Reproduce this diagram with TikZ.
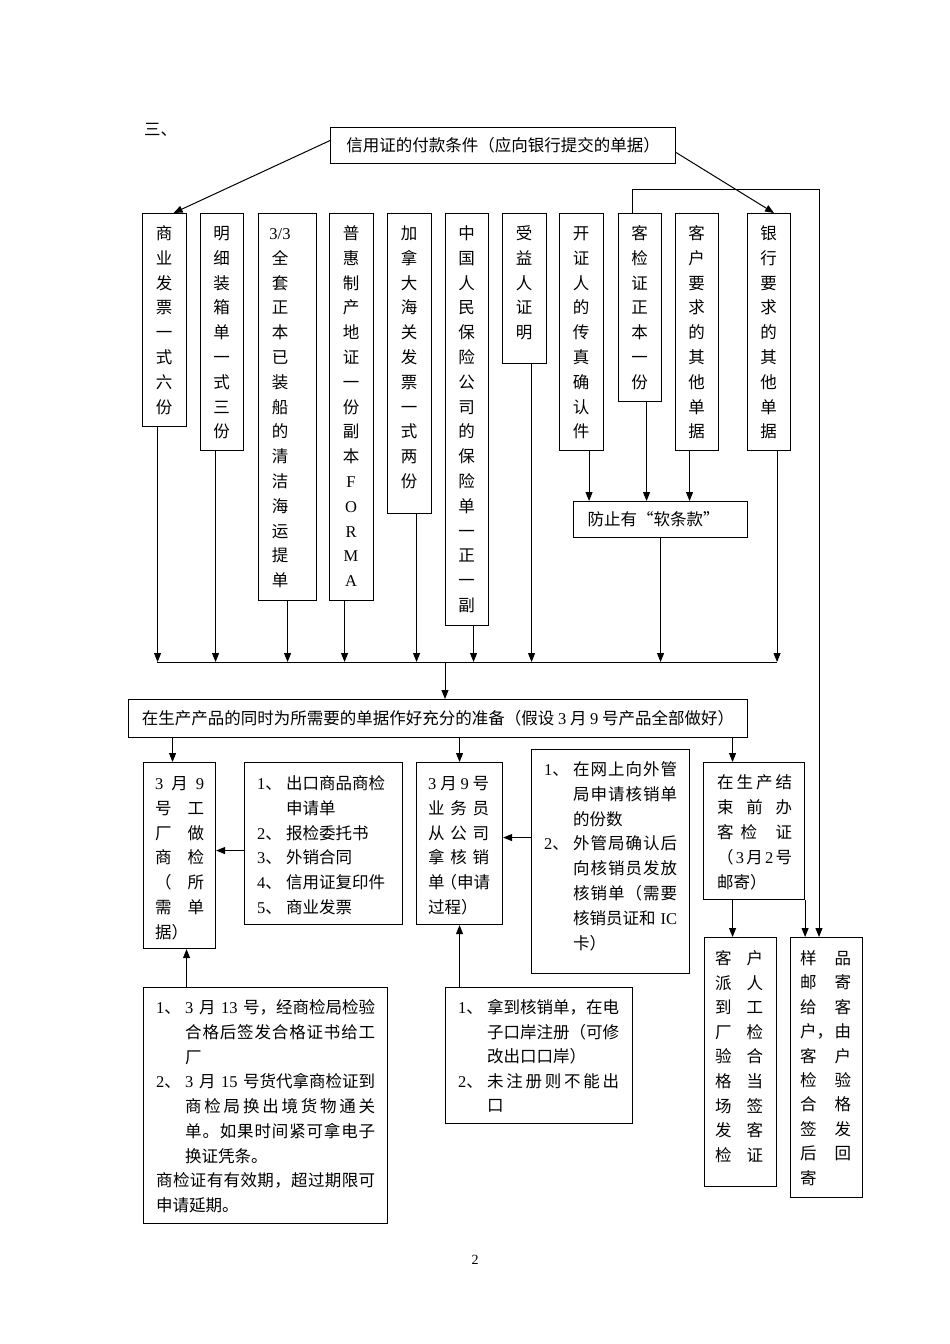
\documentclass[tikz,border=0pt]{standalone}
\usepackage{fontspec}
\setmainfont{Noto Sans CJK SC}
\newfontfamily\latf{Liberation Serif}
\usetikzlibrary{arrows.meta}
\newcommand\dg[1]{{\latf #1}}
\def\jz#1#2\jzend{#1\if\relax\detokenize{#2}\relax\else\hfil\jz#2\jzend\fi}
\newcommand\sprd[2]{\makebox[#1][s]{\jz#2\jzend}}
\newcommand\nm[1]{\makebox[29pt][l]{\dg{#1}、}}
\newcommand\hi{\hspace*{29pt}}
\newcommand\ftop{\rule{0pt}{16pt}}
\newcommand\fs{\fontsize{16.5}{24.8}\selectfont}
\begin{document}
\begin{tikzpicture}[x=1pt,y=-1pt,
  bx/.style={draw, line width=1.1pt, inner sep=0pt, anchor=north west},
  vt/.style={font=\fs, align=center, inner sep=0pt, anchor=north},
  ht/.style={font=\fs, align=left, inner sep=0pt, anchor=north west},
  arr/.style={line width=1pt, -{Triangle[length=9pt,width=7pt]}},
  ln/.style={line width=1pt}]
\useasboundingbox (0,0) rectangle (950,1344);

\node[font=\fs, inner sep=0pt, anchor=west] (sec) at (144,130) {三、};
\node[bx, minimum width=345pt, minimum height=36pt, font=\fs] (top) at (330,127) {信用证的付款条件（应向银行提交的单据）};

% vertical boxes
\node[bx, minimum width=44pt, minimum height=213pt] (v1) at (142,213) {};
\node[bx, minimum width=43pt, minimum height=237pt] (v2) at (200,213) {};
\node[bx, minimum width=58pt, minimum height=387pt] (v3) at (258,213) {};
\node[bx, minimum width=44pt, minimum height=387pt] (v4) at (329,213) {};
\node[bx, minimum width=44pt, minimum height=300pt] (v5) at (387,213) {};
\node[bx, minimum width=43pt, minimum height=412pt] (v6) at (445,213) {};
\node[bx, minimum width=44pt, minimum height=150pt] (v7) at (502,213) {};
\node[bx, minimum width=44pt, minimum height=237pt] (v8) at (559,213) {};
\node[bx, minimum width=43pt, minimum height=188pt] (v9) at (618,213) {};
\node[bx, minimum width=43pt, minimum height=237pt] (v10) at (675,213) {};
\node[bx, minimum width=43pt, minimum height=237pt] (v11) at (747,213) {};

\node[vt] (v1t) at (164,223.3) {\ftop 商\\业\\发\\票\\一\\式\\六\\份};
\node[vt] (v2t) at (221.5,223.3) {\ftop 明\\细\\装\\箱\\单\\一\\式\\三\\份};
\node[vt] (v3t) at (280,223.3) {\ftop\dg{3/3}\\全\\套\\正\\本\\已\\装\\船\\的\\清\\洁\\海\\运\\提\\单};
\node[vt] (v4t) at (351,223.3) {\ftop 普\\惠\\制\\产\\地\\证\\一\\份\\副\\本\\\dg{F}\\\dg{O}\\\dg{R}\\\dg{M}\\\dg{A}};
\node[vt] (v5t) at (409,223.3) {\ftop 加\\拿\\大\\海\\关\\发\\票\\一\\式\\两\\份};
\node[vt] (v6t) at (466.5,223.3) {\ftop 中\\国\\人\\民\\保\\险\\公\\司\\的\\保\\险\\单\\一\\正\\一\\副};
\node[vt] (v7t) at (524,223.3) {\ftop 受\\益\\人\\证\\明};
\node[vt] (v8t) at (581,223.3) {\ftop 开\\证\\人\\的\\传\\真\\确\\认\\件};
\node[vt] (v9t) at (639.5,223.3) {\ftop 客\\检\\证\\正\\本\\一\\份};
\node[vt] (v10t) at (696.5,223.3) {\ftop 客\\户\\要\\求\\的\\其\\他\\单\\据};
\node[vt] (v11t) at (768.5,223.3) {\ftop 银\\行\\要\\求\\的\\其\\他\\单\\据};

\node[bx, minimum width=174pt, minimum height=36pt, font=\fs, text width=146pt, align=left, inner xsep=14pt] (fz) at (573,501) {防止有“软条款”};

\node[bx, minimum width=619pt, minimum height=38pt, font=\fs] (big) at (128,699) {在生产产品的同时为所需要的单据作好充分的准备（假设 \dg{3} 月 \dg{9} 号产品全部做好）};

% middle boxes
\node[bx, minimum width=72pt, minimum height=186pt] (A) at (143,762) {};
\node[bx, minimum width=158pt, minimum height=162pt] (B) at (244,762) {};
\node[bx, minimum width=86pt, minimum height=162pt] (C) at (416,762) {};
\node[bx, minimum width=158pt, minimum height=224pt] (D) at (531,749) {};
\node[bx, minimum width=101pt, minimum height=137pt] (E) at (703,762) {};
\node[bx, minimum width=72pt, minimum height=249pt] (F) at (704,937) {};
\node[bx, minimum width=72pt, minimum height=260pt] (G) at (790,937) {};
\node[bx, minimum width=244pt, minimum height=236pt] (H) at (143,987) {};
\node[bx, minimum width=187pt, minimum height=136pt] (I) at (445,987) {};

\node[ht] (At) at (155,773.3) {\ftop\sprd{49pt}{{{\dg3}}月{{\dg9}}}\\\sprd{49pt}{号工}\\\sprd{49pt}{厂做}\\\sprd{49pt}{商检}\\\sprd{49pt}{（所}\\\sprd{49pt}{需单}\\据）};
\node[ht] (Bt) at (257,773.3) {\ftop\nm{1}出口商品商检\\\hi 申请单\\\nm{2}报检委托书\\\nm{3}外销合同\\\nm{4}信用证复印件\\\nm{5}商业发票};
\node[ht] (Ct) at (428,773.3) {\ftop\sprd{61pt}{{{\dg3}}月{{\dg9}}号}\\\sprd{61pt}{业务员}\\\sprd{61pt}{从公司}\\\sprd{61pt}{拿核销}\\单\kern-4pt（申请\\过程）};
\node[ht] (Dt) at (544,759.3) {\ftop\nm{1}\sprd{104pt}{在网上向外管}\\\hi\sprd{104pt}{局申请核销单}\\\hi 的份数\\\nm{2}\sprd{104pt}{外管局确认后}\\\hi\sprd{104pt}{向核销员发放}\\\hi\sprd{104pt}{核销单（需要}\\\hi\makebox[104pt][s]{核销员证和 \dg{IC}}\\\hi 卡）};
\node[ht, font=\fontsize{16.5}{25}\selectfont] (Et) at (717,772.3) {\ftop\sprd{75pt}{在生产结}\\\sprd{75pt}{束前办}\\\makebox[75pt][s]{客\hspace{7pt}检\hfil 证}\\\sprd{75pt}{（{{\dg3}}月{{\dg2}}号}\\邮寄）};
\node[ht, font=\fontsize{16.5}{24.6}\selectfont] (Ft) at (715,948.3) {\ftop\sprd{48pt}{客户}\\\sprd{48pt}{派人}\\\sprd{48pt}{到工}\\\sprd{48pt}{厂检}\\\sprd{48pt}{验合}\\\sprd{48pt}{格当}\\\sprd{48pt}{场签}\\\sprd{48pt}{发客}\\\sprd{48pt}{检证}};
\node[ht, font=\fontsize{16.5}{24.4}\selectfont] (Gt) at (800,948.3) {\ftop\sprd{51pt}{样品}\\\sprd{51pt}{邮寄}\\\sprd{51pt}{给客}\\\makebox[51pt][s]{户，\hfil 由}\\\sprd{51pt}{客户}\\\sprd{51pt}{检验}\\\sprd{51pt}{合格}\\\sprd{51pt}{签发}\\\sprd{51pt}{后回}\\寄};
\node[ht, font=\fontsize{16.5}{24.75}\selectfont] (Ht) at (156,997.3) {\ftop\nm{1}\makebox[190pt][s]{\dg{3}\hspace{4pt plus 3pt}月\hspace{4pt plus 3pt}\dg{13}\hspace{4pt plus 3pt}号，经商检局检验}\\\hi\sprd{190pt}{合格后签发合格证书给工}\\\hi 厂\\\nm{2}\makebox[190pt][s]{\dg{3}\hspace{4pt plus 3pt}月\hspace{4pt plus 3pt}\dg{15}\hspace{4pt plus 3pt}号货代拿商检证到}\\\hi\sprd{190pt}{商检局换出境货物通关}\\\hi\sprd{190pt}{单。如果时间紧可拿电子}\\\hi 换证凭条。\\\sprd{219pt}{商检证有有效期，超过期限可}\\申请延期。};
\node[ht, font=\fontsize{16.5}{24.5}\selectfont] (It) at (458,997.3) {\ftop\nm{1}\sprd{132pt}{拿到核销单，在电}\\\hi\sprd{132pt}{子口岸注册（可修}\\\hi 改出口口岸）\\\nm{2}\sprd{132pt}{未注册则不能出}\\\hi 口};

\node[font=\latf\fontsize{14}{14}\selectfont, inner sep=0pt] (pg) at (475,1260) {2};

% connectors
\draw[arr] ([yshift=5pt]top.west) -- ([xshift=9pt]v1.north);
\draw[arr] ([yshift=-7pt]top.east) -- ([xshift=5pt]v11.north);

\coordinate (busL) at (157,662);
\coordinate (busR) at (777,662);
\coordinate (busM) at (445,662);
\draw[ln] (busL) -- (busR);
\draw[arr] ([xshift=-7pt]v1.south) -- ([xshift=-7pt]v1.south |- busL);
\draw[arr] ([xshift=-6.5pt]v2.south) -- ([xshift=-6.5pt]v2.south |- busL);
\draw[arr] (v3.south) -- (v3.south |- busL);
\draw[arr] ([xshift=-7pt]v4.south) -- ([xshift=-7pt]v4.south |- busL);
\draw[arr] ([xshift=7pt]v5.south) -- ([xshift=7pt]v5.south |- busL);
\draw[arr] ([xshift=6.5pt]v6.south) -- ([xshift=6.5pt]v6.south |- busL);
\draw[arr] ([xshift=7pt]v7.south) -- ([xshift=7pt]v7.south |- busL);
\draw[arr] ([xshift=8pt]v11.south) -- ([xshift=8pt]v11.south |- busL);
\draw[arr] ([xshift=7.5pt]v8.south) -- ([xshift=7.5pt]v8.south |- fz.north);
\draw[arr] ([xshift=6.5pt]v9.south) -- ([xshift=6.5pt]v9.south |- fz.north);
\draw[arr] ([xshift=-7.5pt]v10.south) -- ([xshift=-7.5pt]v10.south |- fz.north);
\draw[arr] (fz.south) -- (fz.south |- busL);
\draw[arr] (busM) -- (busM |- big.north);

\coordinate (lp) at (819,189);
\draw[arr] ([xshift=-7.5pt]v9.north) |- (lp) -- (lp |- G.north);

\draw[arr] ([xshift=-7pt]A.north |- big.south) -- ([xshift=-7pt]A.north);
\draw[arr] (C.north |- big.south) -- (C.north);
\draw[arr] ([xshift=-21.5pt]E.north |- big.south) -- ([xshift=-21.5pt]E.north);
\draw[arr] ([yshift=-7pt]B.west) -- ([yshift=-7pt]B.west -| A.east);
\draw[arr] ([yshift=24pt]D.west) -- ([yshift=24pt]D.west -| C.east);
\draw[arr] ([xshift=7pt]A.south |- H.north) -- ([xshift=7pt]A.south);
\draw[arr] (C.south |- I.north) -- (C.south);
\draw[arr] ([xshift=-8pt]F.north |- E.south) -- ([xshift=-8pt]F.north);
\draw[arr] (E.south east) -- (E.south east |- G.north);
\end{tikzpicture}
\end{document}
